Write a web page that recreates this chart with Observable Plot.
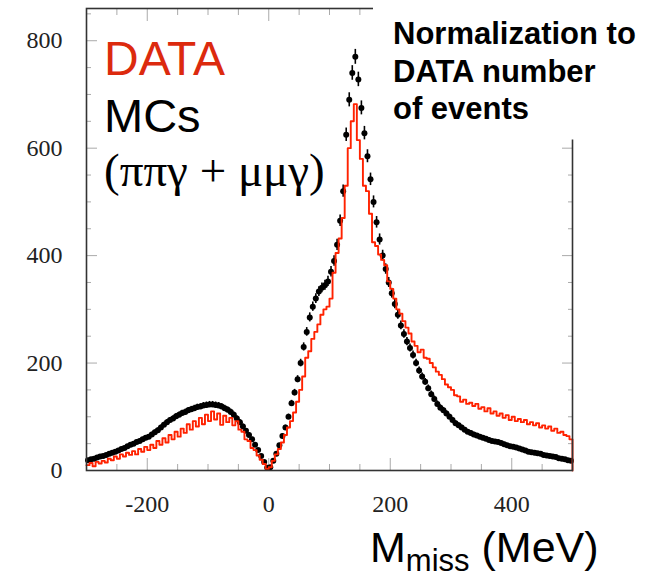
<!DOCTYPE html>
<html><head><meta charset="utf-8">
<script src="https://cdn.jsdelivr.net/npm/d3@7"></script>
<script src="https://cdn.jsdelivr.net/npm/@observablehq/plot@0.6"></script>
<style>
body{margin:0;background:#fff}
#wrap{position:relative;width:659px;height:580px;overflow:hidden;background:#fff}
#wrap svg{position:absolute;left:0;top:0}
</style></head><body><div id="wrap"></div>
<script>
// Histogram binning (MeV)
const binLow = -300;
const binWidth = 5;

// MC (ππγ + μμγ), black points, one value per 5 MeV bin from -300 to 500
const mcValues = [
  19,21,22,24,26,27,29,31,33,35,
  37,40,42,45,48,50,53,55,58,61,
  63,67,71,75,80,85,90,94,97,101,
  104,107,109,112,114,116,118,119,121,122,
  123,123,122,121,119,116,113,109,104,97,
  90,82,74,66,58,48,38,27,16,5,
  6,18,31,47,64,80,100,125,145,170,
  200,230,258,285,305,320,333,340,345,352,
  370,390,420,465,520,625,690,740,770,728,
  675,628,585,542,500,462,430,400,375,350,
  330,310,290,270,254,240,228,215,200,186,
  175,165,153,142,133,124,117,112,106,100,
  94,88,84,80,76,72,70,67,65,63,
  61,59,57,55,54,53,51,49,47,45,
  44,43,41,39,37,35,34,33,32,31,
  29,28,27,26,25,23,22,21,19,18
];

// DATA, red histogram, same bins
const dataValues = [
  10,14,8,16,13,18,15,22,19,26,
  22,30,26,33,29,36,30,40,35,44,
  38,48,42,55,48,60,52,66,58,72,
  63,78,70,86,76,92,82,98,86,104,
  92,110,95,106,85,102,90,98,84,92,
  76,72,58,55,42,38,28,20,12,3,
  6,18,30,40,52,66,80,92,108,128,
  150,175,210,222,245,258,272,290,300,305,
  320,368,405,432,470,530,600,650,682,615,
  580,530,520,478,425,418,402,392,382,352,
  338,320,300,292,278,266,255,240,232,220,
  225,210,208,200,192,184,178,170,160,155,
  150,140,138,128,132,124,126,120,124,115,
  118,110,116,106,110,102,106,98,103,94,
  100,92,96,90,94,86,90,84,88,80,
  84,78,82,74,78,70,72,66,64,58
];

// Axes
const xDomain = [-300, 500];
const yDomain = [0, 860];
const xMajorTicks = [-200, 0, 200, 400];
const xMinorTicks = [-250, -150, -100, -50, 50, 100, 150, 250, 300, 350, 450];
const yMajorTicks = [0, 200, 400, 600, 800];
const yMinorTicks = [50, 100, 150, 250, 300, 350, 450, 500, 550, 650, 700, 750, 850];

// Texts
const legendData = "DATA";
const legendMC = "MCs";
const legendMCsub = "(ππγ + μμγ)";
const noteLines = ["Normalization to", "DATA number", "of events"];
const xLabelMain = "M";
const xLabelSub = "miss";
const xLabelUnit = " (MeV)";

// statistical error bars of the MC points (square root of the bin content)
const mc = mcValues.map((v, i) => ({x: binLow + (i + 0.5) * binWidth, y: v, e: Math.sqrt(v) * 0.5}));
const dataStep = dataValues.map((v, i) => ({x: binLow + i * binWidth, y: v}));
const xEnd = binLow + dataValues.length * binWidth;
dataStep.push({x: xEnd, y: dataValues[dataValues.length - 1]}, {x: xEnd, y: 0});

const tickColor = "#aaa";
const serif = "'Liberation Serif', 'Times New Roman', serif";
const blank = () => "";

const chart = Plot.plot({
  width: 659, height: 580,
  marginLeft: 86, marginRight: 87, marginTop: 8, marginBottom: 110,
  x: {domain: xDomain, label: null},
  y: {domain: yDomain, label: null},
  style: {background: "transparent"},
  marks: [
    // inward ticks, all four sides
    Plot.axisX(xMajorTicks, {anchor: "bottom", tickSize: -12, stroke: tickColor, tickFormat: blank}),
    Plot.axisX(xMinorTicks, {anchor: "bottom", tickSize: -6, stroke: tickColor, tickFormat: blank}),
    Plot.axisX(xMajorTicks, {anchor: "top", tickSize: -12, stroke: tickColor, tickFormat: blank}),
    Plot.axisX(xMinorTicks, {anchor: "top", tickSize: -6, stroke: tickColor, tickFormat: blank}),
    Plot.axisY(yMajorTicks, {anchor: "left", tickSize: -11, stroke: tickColor, tickFormat: blank}),
    Plot.axisY(yMinorTicks, {anchor: "left", tickSize: -5, stroke: tickColor, tickFormat: blank}),
    Plot.axisY(yMajorTicks, {anchor: "right", tickSize: -11, stroke: tickColor, tickFormat: blank}),
    Plot.axisY(yMinorTicks, {anchor: "right", tickSize: -5, stroke: tickColor, tickFormat: blank}),
    // labels
    Plot.axisX(xMajorTicks, {anchor: "bottom", tickSize: 0, tickPadding: 24, fontSize: 24, fill: "#222", tickFormat: d => String(d)}),
    Plot.axisY(yMajorTicks, {anchor: "left", tickSize: 0, tickPadding: 24, fontSize: 24, fill: "#222", tickFormat: d => String(d)}),
    Plot.ruleX(mc, {x: "x", y1: d => d.y - d.e, y2: d => d.y + d.e, stroke: "#000", strokeWidth: 1.6}),
    Plot.dot(mc, {x: "x", y: "y", r: 3, fill: "#000", stroke: null}),
    Plot.line(dataStep, {x: "x", y: "y", curve: "step-after", stroke: "#ff2200", strokeWidth: 1.9}),
    Plot.frame({stroke: "#333", strokeWidth: 1.6})
  ]
});
d3.select(chart).selectAll("text").attr("font-family", serif).style("font-family", serif);
const wrap = document.getElementById("wrap");
wrap.appendChild(chart);

// overlay annotations
const ov = d3.select(wrap).append("svg").attr("width", 659).attr("height", 580);
ov.append("rect").attr("x", 373).attr("y", 0).attr("width", 286).attr("height", 139.5).attr("fill", "#fff");
const sans = "'Liberation Sans', Arial, sans-serif";
noteLines.forEach((t, i) => {
  ov.append("text").attr("x", 393).attr("y", [44, 82, 119][i])
    .attr("font-family", sans).attr("font-weight", "bold").attr("font-size", 31).attr("fill", "#000").text(t);
});
ov.append("text").attr("x", 104).attr("y", 75).attr("font-family", sans).attr("font-size", 48).attr("fill", "#dc2a0e").text(legendData);
ov.append("text").attr("x", 104).attr("y", 132).attr("font-family", sans).attr("font-size", 47).attr("fill", "#000").text(legendMC);
ov.append("text").attr("x", 104).attr("y", 186).attr("font-family", serif).attr("font-size", 47).attr("fill", "#000").text(legendMCsub);
const xl = ov.append("text").attr("x", 370).attr("y", 562).attr("font-family", sans).attr("font-size", 43).attr("fill", "#000");
xl.append("tspan").text(xLabelMain);
xl.append("tspan").attr("font-size", 31).attr("dy", 9).text(xLabelSub);
xl.append("tspan").attr("dy", -9).text(xLabelUnit);
</script></body></html>
